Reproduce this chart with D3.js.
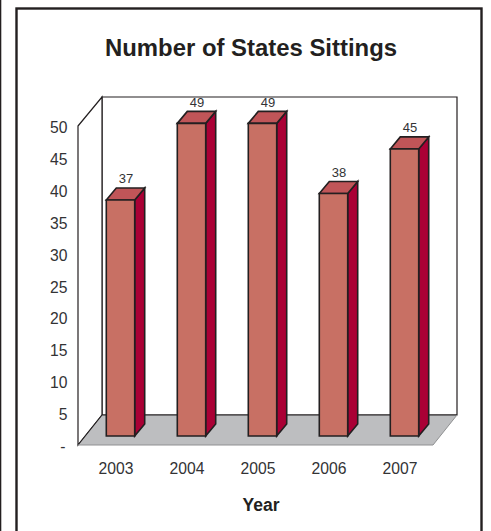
<!DOCTYPE html>
<html><head><meta charset="utf-8">
<script src="https://cdn.jsdelivr.net/npm/d3@7"></script>
<style>html,body{margin:0;padding:0;background:#fff}svg{display:block}text{font-family:"Liberation Sans",Arial,sans-serif}</style>
</head><body><div id="c"></div>
<script>
const years = ["2003","2004","2005","2006","2007"];
const barHeights = [37,49,49,38,45];
const valueLabels = ["37","49","49","38","45"];
const yTicks = [0,5,10,15,20,25,30,35,40,45,50];
const titleText = "Number of States Sittings";
const xTitle = "Year";

const W=491,H=531, ink="#231F20", txt="#333335";
const svg=d3.select("#c").append("svg").attr("width",W).attr("height",H);
const px={l:78,r:433,b:445,t:126}, dx=24, dy=30;
const y=d3.scaleLinear().domain([0,50]).range([px.b,px.t]);
const x=d3.scaleBand().domain(years).range([px.l,px.r]).paddingInner(0.6).paddingOuter(0.3).align(.5);
const bdx=10,bdy=12,shiftX=(dx-bdx)/2, shiftY=9;

// frame
svg.append("rect").attr("x",16.5).attr("y",8.5).attr("width",465).attr("height",540).attr("fill","#fff").attr("stroke",ink).attr("stroke-width",2.4);
svg.append("line").attr("x1",0.5).attr("x2",0.5).attr("y1",0).attr("y2",H).attr("stroke",ink).attr("stroke-width",1.6);

const poly=(pts,f,sw=1)=>svg.append("polygon").attr("points",pts.map(p=>p.join(",")).join(" ")).attr("fill",f).attr("stroke",ink).attr("stroke-width",sw).attr("stroke-linejoin","miter");
// walls
poly([[px.l+dx,px.t-dy+1],[px.r+dx,px.t-dy+1],[px.r+dx,px.b-dy],[px.l+dx,px.b-dy]],"#fff",1.2);
poly([[px.l,px.t],[px.l+dx,px.t-dy+1],[px.l+dx,px.b-dy],[px.l,px.b]],"#fff",1.2);
// floor
svg.append("polygon").attr("points",[[px.l,px.b],[px.r,px.b],[px.r+dx,px.b-dy],[px.l+dx,px.b-dy]].map(p=>p.join(",")).join(" ")).attr("fill","#BDBEC0");
svg.append("path").attr("d",`M${px.l},${px.b}L${px.l+dx},${px.b-dy}H${px.r+dx}`).attr("fill","none").attr("stroke",ink).attr("stroke-width",1.2);
svg.append("path").attr("d",`M${px.l},${px.b}H${px.r}L${px.r+dx},${px.b-dy}`).attr("fill","none").attr("stroke","#8f9092").attr("stroke-width",1);

// bars
years.forEach((yr,i)=>{
  const x0=x(yr)+shiftX, w=x.bandwidth(), x1=x0+w;
  const base=y(0)-shiftY, top=y(barHeights[i])-shiftY;
  poly([[x1,base],[x1+bdx,base-bdy],[x1+bdx,top-bdy],[x1,top]],"#AA0035",1.6);
  poly([[x0,top],[x0+bdx,top-bdy],[x1+bdx,top-bdy],[x1,top]],"#C05558",1.6);
  poly([[x0,top],[x1,top],[x1,base],[x0,base]],"#C87064",1.6);
  svg.append("text").attr("x",x0+w/2+bdx/2+.5).attr("y",top-bdy-4.5).attr("text-anchor","middle").attr("font-size",13).attr("fill",txt).text(valueLabels[i]);
  svg.append("text").attr("x",x0+w/2-4.5).attr("y",474).attr("text-anchor","middle").attr("font-size",15.7).attr("fill",txt).text(yr);
});
// y ticks
yTicks.forEach(t=>{
  svg.append("text").attr("x",t===0?65.5:67.5).attr("y",y(t)+7).attr("text-anchor","end").attr("font-size",15.7).attr("fill",txt).text(t===0?"-":t);
});
svg.append("text").attr("x",251).attr("y",56).attr("text-anchor","middle").attr("font-size",23.9).attr("font-weight","bold").attr("fill",ink).text(titleText);
svg.append("text").attr("x",261).attr("y",511).attr("text-anchor","middle").attr("font-size",17.5).attr("font-weight","bold").attr("fill",ink).text(xTitle);
</script></body></html>
